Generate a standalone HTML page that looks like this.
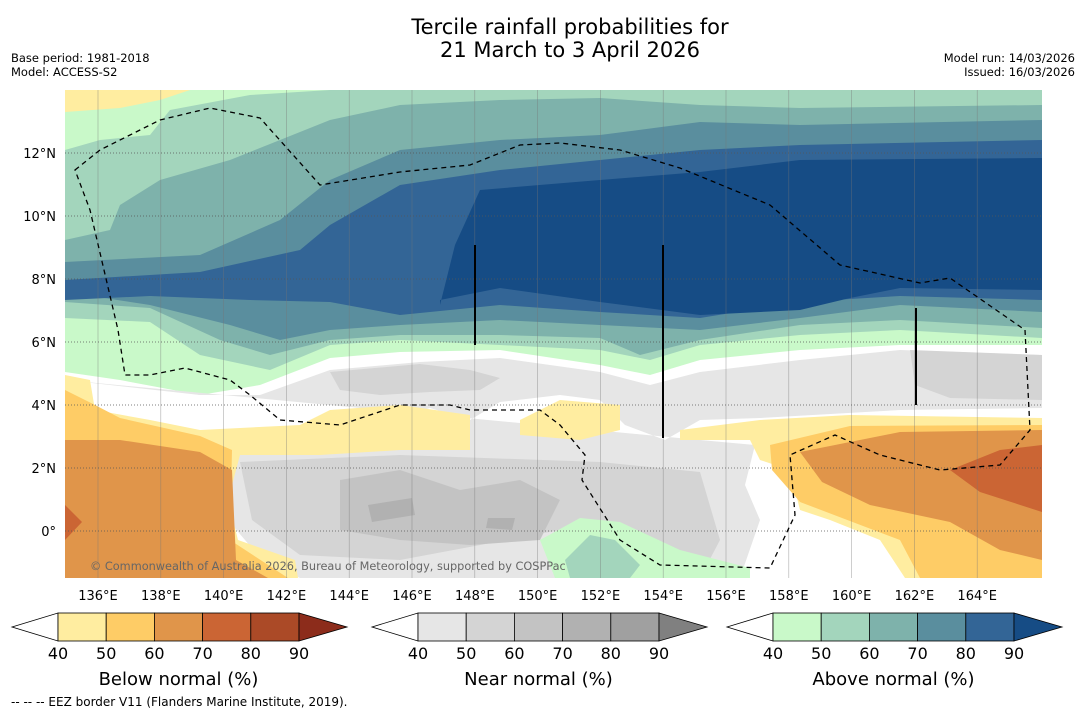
<!DOCTYPE html>
<html><head><meta charset="utf-8">
<style>
body{margin:0;background:#fff;width:1085px;height:713px;overflow:hidden;font-family:"DejaVu Sans","Liberation Sans",sans-serif;}
svg text{font-family:"DejaVu Sans","Liberation Sans",sans-serif;}
</style></head>
<body>
<svg id="chart" width="1085" height="713" viewBox="0 0 1085 713" xmlns="http://www.w3.org/2000/svg">
<text x="570" y="34" font-size="21" text-anchor="middle">Tercile rainfall probabilities for</text>
<text x="570" y="57" font-size="21" text-anchor="middle">21 March to 3 April 2026</text>
<text x="11" y="62" font-size="11.5">Base period: 1981-2018</text>
<text x="11" y="76" font-size="11.5">Model: ACCESS-S2</text>
<text x="1075" y="62" font-size="11.5" text-anchor="end">Model run: 14/03/2026</text>
<text x="1075" y="76" font-size="11.5" text-anchor="end">Issued: 16/03/2026</text>
<clipPath id="mapclip"><rect x="65" y="90" width="977" height="488"/></clipPath>
<g id="map" clip-path="url(#mapclip)">
<rect x="65" y="90" width="977" height="488" fill="#fff"/>
</g>
<g id="axes"></g>
<g id="bars"></g>
<text x="11" y="706" font-size="12">--  --  -- EEZ border V11 (Flanders Marine Institute, 2019).</text>
</svg>
<script>
const lonTicks=[136,138,140,142,144,146,148,150,152,154,156,158,160,162,164];
const latTicks=[0,2,4,6,8,10,12];
const cbLevels=[40,50,60,70,80,90];
const belowColors=["#ffeda0","#fecc66","#e0954a","#cb6534","#ab4a27","#8c2c1b"];
const nearColors=["#e6e6e6","#d4d4d4","#c3c3c3","#b1b1b1","#a0a0a0","#808080"];
const aboveColors=["#c9f9c9","#a3d5bc","#7eb2ab","#5a8e9e","#336596","#164c85"];
const cbTitles=["Below normal (%)","Near normal (%)","Above normal (%)"];
const cbStarts=[12,372,727];
const NS="http://www.w3.org/2000/svg";
const lonX=l=>98+(l-136)*31.4;
const latY=a=>531-a*31.5;
function mk(tag,attrs,parent){const e=document.createElementNS(NS,tag);for(const k in attrs)e.setAttribute(k,attrs[k]);parent.appendChild(e);return e;}
const map=document.getElementById('map');
const regions=[
["a0","above-40",aboveColors[0],"65,90 1042,90 1042,345 900,345 800,350 700,360 650,375 600,365 500,350 400,352 330,358 260,385 200,395 120,380 65,372"],
["bt","below-40-top",belowColors[0],"65,90 190,90 160,100 120,108 65,112"],
["a1","above-50",aboveColors[1],"65,150 100,140 150,135 170,110 250,95 330,90 1042,90 1042,338 900,330 800,335 700,345 650,360 600,350 500,345 400,340 330,345 270,370 200,355 150,322 65,318"],
["a2","above-60",aboveColors[2],"65,240 110,230 120,205 160,180 230,160 280,140 330,120 400,105 500,100 600,98 700,105 800,108 1042,105 1042,328 900,320 800,325 700,340 640,355 600,338 500,335 400,335 330,340 270,355 220,340 150,308 65,302"],
["a3","above-70",aboveColors[3],"65,262 200,255 280,220 330,180 400,150 500,140 600,135 700,122 800,125 1042,120 1042,312 900,305 800,318 700,330 600,325 500,320 400,325 330,330 280,340 230,325 150,305 65,292"],
["a4","above-80",aboveColors[4],"65,280 200,272 300,250 330,225 400,185 500,170 600,160 700,150 800,145 1042,140 1042,300 900,296 800,302 700,318 600,312 500,305 400,315 330,302 250,300 150,296 65,300"],
["a5","above-90",aboveColors[5],"440,305 455,245 480,190 600,180 700,172 800,160 1042,158 1042,290 900,288 850,298 800,310 700,315 600,302 500,288 440,300"],
["n0","near-40",nearColors[0],"65,380 200,395 260,395 330,370 420,362 500,358 600,372 650,385 700,372 800,360 900,350 1042,355 1042,408 900,410 760,418 700,420 665,440 625,425 600,400 560,395 500,402 470,420 430,408 350,430 300,440 232,452 228,520 262,560 300,578 740,578 760,520 745,485 755,445 700,440"],
["n1","near-50",nearColors[1],"240,462 400,455 600,462 700,472 720,540 700,578 620,578 560,530 400,560 300,555 252,520"],
["n2","near-60",nearColors[2],"340,480 400,470 460,490 520,480 560,500 540,540 470,545 400,540 340,530"],
["n3","near-70",nearColors[3],"368,505 412,498 415,515 372,522"],
["n4","near-70b",nearColors[3],"488,518 515,518 512,530 486,528"],
["n5","near-50b",nearColors[1],"330,372 420,364 470,370 500,378 480,390 430,392 380,395 340,390"],
["n6","near-50c",nearColors[1],"910,350 1042,355 1042,400 950,398 915,385"],
["b0","below-40-left",belowColors[0],"65,375 90,380 95,410 150,420 200,430 300,425 330,410 400,405 470,415 470,450 400,450 320,455 240,455 228,500 238,540 295,560 298,578 65,578"],
["b1","below-50-left",belowColors[1],"65,390 95,405 120,418 200,436 232,450 230,540 288,578 65,578"],
["b2","below-60-left",belowColors[2],"65,440 120,440 200,452 232,470 236,560 268,578 65,578"],
["b3","below-70-left",belowColors[3],"65,505 82,522 65,540"],
["b4","below-40-mid",belowColors[0],"520,420 560,400 620,405 620,430 580,440 520,435"],
["b5","below-40-right",belowColors[0],"680,430 760,420 850,415 1042,418 1042,578 905,578 880,540 830,520 800,510 790,470 760,460 750,440 680,440"],
["b6","below-50-right",belowColors[1],"770,445 850,426 1042,425 1042,578 920,578 900,540 800,502 772,470"],
["b7","below-60-right",belowColors[2],"800,452 900,432 1042,430 1042,560 1000,550 950,522 870,505 822,482"],
["b8","below-70-right",belowColors[3],"950,470 1000,450 1042,445 1042,512 980,492"],
["g0","above-40-south",aboveColors[0],"540,540 580,518 620,522 680,550 750,568 750,578 555,578"],
["g1","above-50-south",aboveColors[1],"565,560 590,535 615,540 640,565 630,578 570,578"]
];
regions.forEach(r=>{
 const p=mk('polygon',{points:r[3],fill:r[2]},map);
 
 
});
lonTicks.forEach(l=>{const ln=mk('line',{x1:lonX(l),x2:lonX(l),y1:90,y2:578,stroke:'#777','stroke-width':0.6,'stroke-opacity':0.6},map);
 });
latTicks.forEach(a=>{const ln=mk('line',{x1:65,x2:1042,y1:latY(a),y2:latY(a),stroke:'#555','stroke-width':0.7,'stroke-dasharray':'1,2'},map);
 });
[[475,245,345],[663,245,438],[916,308,405]].forEach(v=>{const ln=mk('line',{x1:v[0],x2:v[0],y1:v[1],y2:v[2],stroke:'#000','stroke-width':2},map);
 });
const eez=mk('path',{d:"M75,170 L100,150 L160,120 L210,108 L260,118 L320,185 L400,172 L470,165 L520,145 L560,143 L620,150 L680,168 L770,205 L840,265 L920,283 L950,278 L1025,330 L1030,430 L1000,465 L940,470 L880,455 L835,435 L790,455 L795,515 L770,568 L660,565 L620,540 L582,480 L585,455 L560,425 L540,410 L470,410 L450,405 L400,405 L340,425 L280,420 L250,395 L230,380 L185,368 L150,375 L125,375 L118,330 L90,210 Z",fill:'none',stroke:'#000','stroke-width':1.3,'stroke-dasharray':'5,4'},map);


const cr=mk('text',{x:90,y:570,'font-size':11.3,fill:'#666'},map);


cr.textContent="© Commonwealth of Australia 2026, Bureau of Meteorology, supported by COSPPac";
const axes=document.getElementById('axes');
lonTicks.forEach(l=>{const t=mk('text',{x:lonX(l),y:600,'font-size':13,'text-anchor':'middle'},axes);
 t.textContent=l+'°E';});
latTicks.forEach(a=>{const t=mk('text',{x:56,y:latY(a)+5,'font-size':13,'text-anchor':'end'},axes);
 t.textContent=a===0?'0°':a+'°N';});
const bars=document.getElementById('bars');
const sets=[belowColors,nearColors,aboveColors];
const bw=48.2,y0=613,y1=641,ym=627;
sets.forEach((cols,i)=>{
 const x0=cbStarts[i];const g=mk('g',{},bars);
 
 const xs=x0+46;
 mk('polygon',{points:`${x0},${ym} ${xs},${y0} ${xs},${y1}`,fill:'#fff',stroke:'#000','stroke-width':0.8},g);
 for(let k=0;k<5;k++){mk('rect',{x:xs+k*bw,y:y0,width:bw,height:y1-y0,fill:cols[k],stroke:'#000','stroke-width':0.8},g);}
 const xe=xs+5*bw;
 mk('polygon',{points:`${xe},${y0} ${xe+48},${ym} ${xe},${y1}`,fill:cols[5],stroke:'#000','stroke-width':0.8},g);
 cbLevels.forEach((v,k)=>{const t=mk('text',{x:xs+k*bw,y:659,'font-size':16,'text-anchor':'middle'},g);
  t.textContent=v;});
 const tt=mk('text',{x:xs+2.5*bw,y:685,'font-size':18,'text-anchor':'middle'},g);
 tt.textContent=cbTitles[i];
});
</script>
</body></html>
